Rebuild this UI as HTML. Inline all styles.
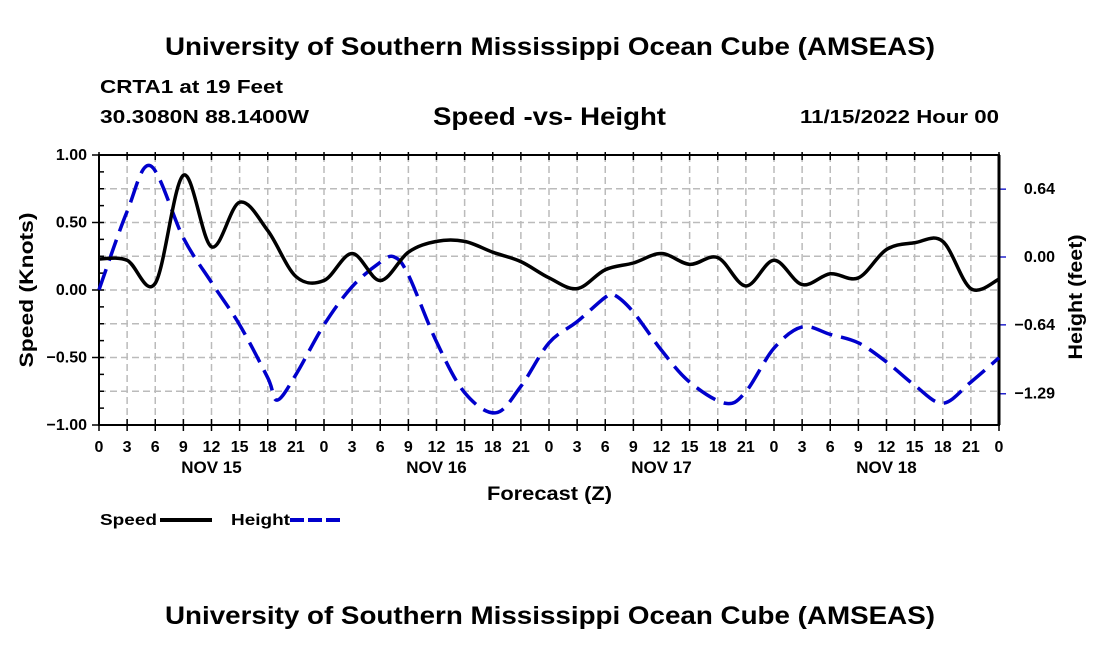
<!DOCTYPE html>
<html><head><meta charset="utf-8"><style>
body{margin:0;background:#fff;}
svg{display:block;font-family:"Liberation Sans",sans-serif;font-weight:bold;}
</style></head><body>
<svg id="c" width="1100" height="650">
<text x="165" y="55" font-size="25" textLength="770" lengthAdjust="spacingAndGlyphs">University of Southern Mississippi Ocean Cube (AMSEAS)</text>
<text x="100" y="93" font-size="18" textLength="183" lengthAdjust="spacingAndGlyphs">CRTA1 at 19 Feet</text>
<text x="100" y="123" font-size="18" textLength="209" lengthAdjust="spacingAndGlyphs">30.3080N  88.1400W</text>
<text x="433" y="125" font-size="25" textLength="233" lengthAdjust="spacingAndGlyphs">Speed -vs- Height</text>
<text x="800" y="123" font-size="18" textLength="199" lengthAdjust="spacingAndGlyphs">11/15/2022 Hour 00</text>
<text x="487" y="500" font-size="19" textLength="125" lengthAdjust="spacingAndGlyphs">Forecast (Z)</text>
<text transform="translate(33,290) rotate(-90)" text-anchor="middle" font-size="19" textLength="155" lengthAdjust="spacingAndGlyphs">Speed (Knots)</text>
<text transform="translate(1082,297) rotate(-90)" text-anchor="middle" font-size="19" textLength="125" lengthAdjust="spacingAndGlyphs">Height (feet)</text>
<g>
<text x="100" y="525" font-size="16" textLength="57" lengthAdjust="spacingAndGlyphs">Speed</text>
<line x1="160" y1="520" x2="212" y2="520" stroke="#000" stroke-width="4"/>
<text x="231" y="525" font-size="16" textLength="59" lengthAdjust="spacingAndGlyphs">Height</text>
<line x1="290" y1="520" x2="342" y2="520" stroke="#00c" stroke-width="4" stroke-dasharray="14,4"/>
</g>
<text x="165" y="624" font-size="25" textLength="770" lengthAdjust="spacingAndGlyphs">University of Southern Mississippi Ocean Cube (AMSEAS)</text>
<g id="plot"></g>
</svg>
<script>
const speedHours=[0,3,6,9,12,15,18,21,24,27,30,33,36,39,42,45,48,51,54,57,60,63,66,69,72,75,78,81,84,87,90,93,96];
const speedValues=[0.23,0.22,0.05,0.85,0.32,0.65,0.44,0.10,0.07,0.27,0.07,0.28,0.36,0.36,0.28,0.21,0.09,0.01,0.15,0.20,0.27,0.19,0.24,0.03,0.22,0.04,0.12,0.09,0.30,0.35,0.36,0.01,0.08];
const heightHours=[0,3,5.5,9,12,15,18,19,21,24,27,30,31.5,33,36,39,42.3,45,48,51,54,55,57,60,63,66.8,69,72,75,78,81,84,87,90,93,96];
const heightValues=[-0.31,0.43,0.86,0.18,-0.24,-0.64,-1.14,-1.35,-1.11,-0.64,-0.28,-0.05,0,-0.17,-0.80,-1.28,-1.47,-1.22,-0.81,-0.61,-0.38,-0.36,-0.52,-0.88,-1.18,-1.38,-1.27,-0.86,-0.66,-0.73,-0.81,-0.99,-1.21,-1.38,-1.18,-0.95];
const speedTicks=[1,0.5,0,-0.5,-1];
const speedTickLabels=["1.00","0.50","0.00","\u22120.50","\u22121.00"];
const heightTicks=[0.64,0,-0.64,-1.29];
const heightTickLabels=["0.64","0.00","\u22120.64","\u22121.29"];
const dayLabels=["NOV 15","NOV 16","NOV 17","NOV 18"];
const X0=99,X1=999,Y0=155,Y1=425;
const xs=h=>X0+(X1-X0)*h/96;
const ys=v=>290-v*135;
const yh=v=>257-v*106;
const NS="http://www.w3.org/2000/svg",g=document.getElementById('plot');
function mk(t,a,txt){const e=document.createElementNS(NS,t);for(const k in a)e.setAttribute(k,a[k]);if(txt!=null)e.textContent=txt;g.appendChild(e);return e;}
for(let v=-0.75;v<=0.76;v+=0.25){const l=mk('line',{x1:X0,x2:X1,y1:ys(v),y2:ys(v),stroke:'#bbb','stroke-width':1.5,'stroke-dasharray':'7,4'});

}
for(let h=3;h<96;h+=3){const l=mk('line',{x1:xs(h),x2:xs(h),y1:Y0,y2:Y1,stroke:'#bbb','stroke-width':1.5,'stroke-dasharray':'7,4'});

}
for(let h=0;h<=96;h+=3){
const t=mk('line',{x1:xs(h),x2:xs(h),y1:Y1+6,y2:Y1-6,stroke:'#000','stroke-width':1.5});


const t2=mk('line',{x1:xs(h),x2:xs(h),y1:Y0-3,y2:Y0+5,stroke:'#000','stroke-width':1.5});


const lb=mk('text',{x:xs(h),y:452,'text-anchor':'middle','font-size':16},String(h%24));

}
dayLabels.forEach((d,i)=>{const t=mk('text',{x:xs(i*24+12),y:473,'text-anchor':'middle','font-size':17},d);

});
for(let v=-1;v<=1.001;v+=0.125){const major=Math.abs(v*2-Math.round(v*2))<1e-6;const t=mk('line',{x1:major?X0-7:X0,x2:X0+5,y1:ys(v),y2:ys(v),stroke:'#000','stroke-width':1.5});

}
speedTicks.forEach((v,i)=>{const t=mk('text',{x:87,y:ys(v)+5,'text-anchor':'end','font-size':16},speedTickLabels[i]);

});
heightTicks.forEach((v,i)=>{const t=mk('line',{x1:X1,x2:X1+7,y1:yh(v),y2:yh(v),stroke:'#22c','stroke-width':1.5});


const l=mk('text',{x:1055,y:yh(v)+5,'text-anchor':'end','font-size':16},heightTickLabels[i]);

});
const fr=mk('rect',{x:X0,y:Y0,width:X1-X0,height:Y1-Y0,fill:'none',stroke:'#000','stroke-width':2});


const rb=mk('line',{x1:X1,x2:X1,y1:Y0,y2:Y1,stroke:'#000','stroke-width':3});


function smooth(pts){let d='M'+pts[0][0]+','+pts[0][1];for(let i=0;i<pts.length-1;i++){const p0=pts[i-1]||pts[i],p1=pts[i],p2=pts[i+1],p3=pts[i+2]||p2;
d+=' C'+(p1[0]+(p2[0]-p0[0])/6)+','+(p1[1]+(p2[1]-p0[1])/6)+' '+(p2[0]-(p3[0]-p1[0])/6)+','+(p2[1]-(p3[1]-p1[1])/6)+' '+p2[0]+','+p2[1];}return d;}
const hp=mk('path',{d:smooth(heightHours.map((h,i)=>[xs(h),yh(heightValues[i])])),fill:'none',stroke:'#00c','stroke-width':3.5,'stroke-dasharray':'22,9'});


const sp=mk('path',{d:smooth(speedHours.map((h,i)=>[xs(h),ys(speedValues[i])])),fill:'none',stroke:'#000','stroke-width':3.5});


</script>
</body></html>
